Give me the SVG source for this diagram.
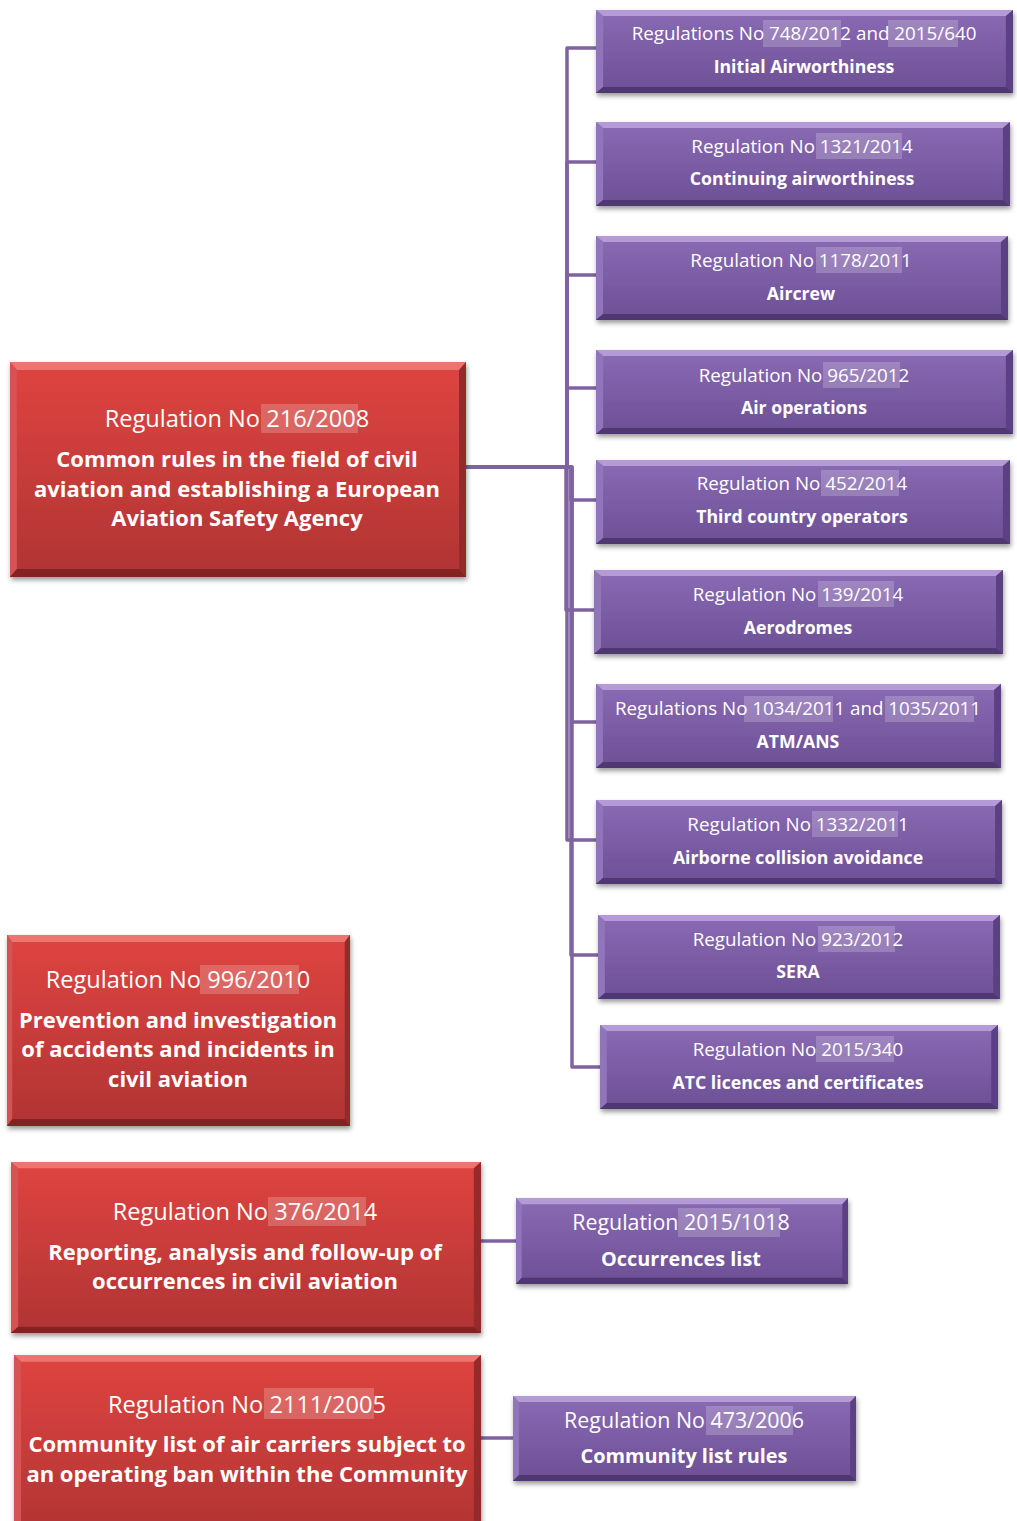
<svg xmlns="http://www.w3.org/2000/svg" xmlns:xlink="http://www.w3.org/1999/xlink" width="1017" height="1521" viewBox="0 0 1017 1521">
<style>
text{font-family:"Open Sans","Noto Sans","DejaVu Sans",sans-serif;fill:#ffffff;text-anchor:middle}
.r{font-size:18.8px;font-weight:400}
.b{font-size:17.7px;font-weight:700}
.rr{font-size:23.6px;font-weight:400}
.rb{font-size:22px;font-weight:700}
.mr{font-size:21.4px;font-weight:400}
.mb{font-size:19.9px;font-weight:700}
.hl{fill:#ffffff;fill-opacity:0.2}
.con{fill:none;stroke:#7f63a1;stroke-width:3.5;stroke-linejoin:round}
.sh{filter:url(#sh)}
</style>
<defs>
<filter id="sh" x="-5%" y="-10%" width="112%" height="130%">
<feDropShadow dx="1" dy="3" stdDeviation="2.5" flood-color="#000" flood-opacity="0.4"/>
</filter>
<linearGradient id="pg" x1="0" y1="0" x2="0" y2="1">
<stop offset="0" stop-color="#8a6bb4"/>
<stop offset="1" stop-color="#6c4f95"/>
</linearGradient>
<linearGradient id="rg" x1="0" y1="0" x2="0" y2="1">
<stop offset="0" stop-color="#df4440"/>
<stop offset="1" stop-color="#b03434"/>
</linearGradient>
<symbol id="pb" viewBox="0 0 410 84" preserveAspectRatio="none">
<rect width="410" height="84" fill="url(#pg)"/>
<polygon points="0,0 410,0 403,6 7,6" fill="#b59ad8"/>
<polygon points="0,0 7,6 7,78 0,84" fill="#9075ba"/>
<polygon points="410,0 410,84 403,78 403,6" fill="#5c4184"/>
<polygon points="0,84 7,78 403,78 410,84" fill="#4f3771"/>
</symbol>
<symbol id="rb" viewBox="0 0 460 190" preserveAspectRatio="none">
<rect width="460" height="190" fill="url(#rg)"/>
<polygon points="0,0 460,0 453,7 7,7" fill="#ec7470"/>
<polygon points="0,0 7,7 7,183 0,190" fill="#d65252"/>
<polygon points="460,0 460,190 453,183 453,7" fill="#952a2a"/>
<polygon points="0,190 7,183 453,183 460,190" fill="#842424"/>
</symbol>
</defs>
<rect width="1017" height="1521" fill="#ffffff"/>

<g id="connectors">
<path class="con" d="M466,467 H567 V48 H596"/>
<path class="con" d="M466,467 H567 V162 H596"/>
<path class="con" d="M466,467 H567 V275 H596"/>
<path class="con" d="M466,467 H567 V388 H596"/>
<path class="con" d="M466,467 H571 V500 H596"/>
<path class="con" d="M466,467 H566 V610 H594"/>
<path class="con" d="M466,467 H572 V722 H596"/>
<path class="con" d="M466,467 H567 V840 H596"/>
<path class="con" d="M466,467 H571 V955 H598"/>
<path class="con" d="M466,467 H572 V1067 H600"/>
<path class="con" d="M481,1241 H516"/>
<path class="con" d="M481,1438 H513"/>
</g>

<g id="n-216-2008">
<use href="#rb" x="10" y="362" width="456" height="215" class="sh"/>
<rect class="hl" x="261" y="404" width="97" height="29"/>
<text class="rr" x="237" y="426.5">Regulation No 216/2008</text>
<text class="rb" x="237" y="467">Common rules in the field of civil</text>
<text class="rb" x="237" y="497">aviation and establishing a European</text>
<text class="rb" x="237" y="526">Aviation Safety Agency</text>
</g>

<g id="n-996-2010">
<use href="#rb" x="7" y="935" width="343" height="191" class="sh"/>
<rect class="hl" x="200" y="965" width="99" height="29"/>
<text class="rr" x="178" y="987.5">Regulation No 996/2010</text>
<text class="rb" x="178" y="1028">Prevention and investigation</text>
<text class="rb" x="178" y="1057">of accidents and incidents in</text>
<text class="rb" x="178" y="1087">civil aviation</text>
</g>

<g id="n-376-2014">
<use href="#rb" x="11" y="1162" width="470" height="171" class="sh"/>
<rect class="hl" x="268" y="1197" width="98" height="29"/>
<text class="rr" x="245" y="1219.5">Regulation No 376/2014</text>
<text class="rb" x="245" y="1260">Reporting, analysis and follow-up of</text>
<text class="rb" x="245" y="1289">occurrences in civil aviation</text>
</g>

<g id="n-2111-2005">
<use href="#rb" x="14" y="1355" width="467" height="180" class="sh"/>
<rect class="hl" x="264" y="1388" width="110" height="31"/>
<text class="rr" x="247" y="1412.5">Regulation No 2111/2005</text>
<text class="rb" x="247" y="1452">Community list of air carriers subject to</text>
<text class="rb" x="247" y="1482">an operating ban within the Community</text>
</g>

<g id="n-748-2012">
<use href="#pb" x="596" y="10" width="417" height="83" class="sh"/>
<rect class="hl" x="763" y="20" width="78" height="27"/>
<rect class="hl" x="888" y="20" width="70" height="27"/>
<text class="r" x="804" y="40">Regulations No 748/2012 and 2015/640</text>
<text class="b" x="804" y="72.5">Initial Airworthiness</text>
</g>

<g id="n-1321-2014">
<use href="#pb" x="596" y="122" width="414" height="84" class="sh"/>
<rect class="hl" x="816" y="133" width="86" height="26"/>
<text class="r" x="802" y="153">Regulation No 1321/2014</text>
<text class="b" x="802" y="184.5">Continuing airworthiness</text>
</g>

<g id="n-1178-2011">
<use href="#pb" x="596" y="236" width="412" height="84" class="sh"/>
<rect class="hl" x="816" y="247" width="86" height="26"/>
<text class="r" x="801" y="267">Regulation No 1178/2011</text>
<text class="b" x="801" y="299.5">Aircrew</text>
</g>

<g id="n-965-2012">
<use href="#pb" x="596" y="350" width="417" height="84" class="sh"/>
<rect class="hl" x="823" y="362" width="77" height="26"/>
<text class="r" x="804" y="382">Regulation No 965/2012</text>
<text class="b" x="804" y="413.5">Air operations</text>
</g>

<g id="n-452-2014">
<use href="#pb" x="596" y="460" width="414" height="84" class="sh"/>
<rect class="hl" x="821" y="470" width="78" height="26"/>
<text class="r" x="802" y="490">Regulation No 452/2014</text>
<text class="b" x="802" y="522.5">Third country operators</text>
</g>

<g id="n-139-2014">
<use href="#pb" x="594" y="570" width="409" height="84" class="sh"/>
<rect class="hl" x="818" y="581" width="76" height="26"/>
<text class="r" x="798" y="601">Regulation No 139/2014</text>
<text class="b" x="798" y="633.5">Aerodromes</text>
</g>

<g id="n-1034-2011">
<use href="#pb" x="596" y="684" width="405" height="84" class="sh"/>
<rect class="hl" x="744" y="696" width="89" height="26"/>
<rect class="hl" x="885" y="696" width="89" height="26"/>
<text class="r" x="798" y="715">Regulations No 1034/2011  and 1035/2011</text>
<text class="b" x="798" y="747.5">ATM/ANS</text>
</g>

<g id="n-1332-2011">
<use href="#pb" x="596" y="800" width="406" height="84" class="sh"/>
<rect class="hl" x="812" y="811" width="86" height="26"/>
<text class="r" x="798" y="831">Regulation No 1332/2011</text>
<text class="b" x="798" y="863.5">Airborne collision avoidance</text>
</g>

<g id="n-923-2012">
<use href="#pb" x="598" y="915" width="402" height="84" class="sh"/>
<rect class="hl" x="818" y="926" width="77" height="26"/>
<text class="r" x="798" y="946">Regulation No 923/2012</text>
<text class="b" x="798" y="977.5">SERA</text>
</g>

<g id="n-2015-340">
<use href="#pb" x="600" y="1025" width="398" height="84" class="sh"/>
<rect class="hl" x="816" y="1036" width="78" height="26"/>
<text class="r" x="798" y="1056">Regulation No 2015/340</text>
<text class="b" x="798" y="1088.5">ATC licences and certificates</text>
</g>

<g id="n-2015-1018">
<use href="#pb" x="516" y="1198" width="332" height="86" class="sh"/>
<rect class="hl" x="678" y="1208" width="102" height="29"/>
<text class="mr" x="681" y="1229.7">Regulation 2015/1018</text>
<text class="mb" x="681" y="1266">Occurrences list</text>
</g>

<g id="n-473-2006">
<use href="#pb" x="513" y="1396" width="343" height="85" class="sh"/>
<rect class="hl" x="706" y="1406" width="87" height="29"/>
<text class="mr" x="684" y="1427.7">Regulation No 473/2006</text>
<text class="mb" x="684" y="1463">Community list rules</text>
</g>
</svg>
